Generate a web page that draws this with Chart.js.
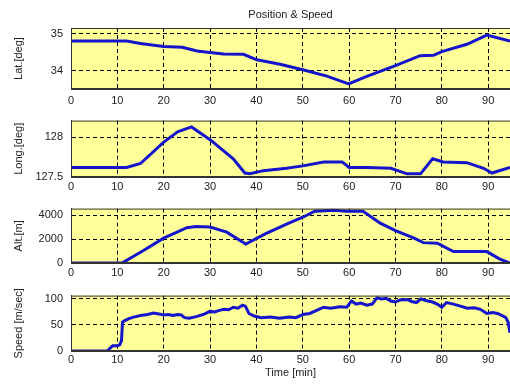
<!DOCTYPE html>
<html>
<head>
<meta charset="utf-8">
<script src="https://cdn.jsdelivr.net/npm/chart.js@4/dist/chart.umd.min.js"></script>
<style>
  html, body { margin: 0; padding: 0; background: #fff; overflow: hidden; }
  #wrap { position: relative; width: 510px; height: 385px; }
  canvas { position: absolute; left: 0; }
</style>
</head>
<body>
<div id="wrap">
  <canvas id="cLat" width="510" height="110" style="top:0px"></canvas>
  <canvas id="cLong" width="510" height="92" style="top:106px"></canvas>
  <canvas id="cAlt" width="510" height="90" style="top:194px"></canvas>
  <canvas id="cSpeed" width="510" height="104" style="top:281px"></canvas>
</div>
<script>
// ==================== DATOS ====================
const timeTicks = [0, 10, 20, 30, 40, 50, 60, 70, 80, 90];

const latTime = [0, 12, 15, 20, 24, 27.2, 30, 32.9, 37.2, 40.1, 45.1, 50, 55.2, 59.9, 63.8, 70, 75.3, 78.2, 80, 85.4, 89.7, 94.7];
const latDeg  = [34.81, 34.81, 34.74, 34.66, 34.64, 34.54, 34.50, 34.46, 34.45, 34.30, 34.18, 34.03, 33.86, 33.65, 33.85, 34.14, 34.41, 34.42, 34.52, 34.72, 34.97, 34.81];
const latTicks = [34, 35];

const longTime = [0, 12, 15, 20, 23, 26, 30, 35, 37.5, 38.6, 41.5, 46.5, 50, 54.5, 58.5, 60, 64, 69, 72.5, 75.4, 78, 80.3, 85.4, 89, 90.8, 94.7];
const longDeg  = [127.62, 127.62, 127.67, 127.94, 128.07, 128.13, 127.97, 127.73, 127.55, 127.54, 127.58, 127.61, 127.64, 127.69, 127.69, 127.62, 127.62, 127.61, 127.54, 127.54, 127.73, 127.69, 127.68, 127.61, 127.55, 127.62];
const longTicks = [127.5, 128];

const altTime = [0, 11, 15, 20, 25, 27, 30, 33.6, 37.7, 42, 46.5, 50, 52.6, 56.6, 59.5, 63, 66.7, 70, 74, 76, 79, 82.5, 89.7, 92.5, 94.7];
const altM    = [0, 0, 900, 2075, 2950, 3050, 3000, 2575, 1575, 2450, 3250, 3820, 4320, 4400, 4320, 4320, 3325, 2700, 2075, 1700, 1650, 950, 950, 325, 0];
const altTicks = [0, 2000, 4000];

const speedTime = [0, 7.8, 8.5, 9, 10, 10.5, 10.9, 11.1, 11.5, 12.5, 13.5, 15, 16.5, 17.8, 19, 20, 21, 22, 23, 23.8, 24.5, 25.5, 27, 28.5, 30, 31, 32, 33, 34, 35, 36, 37, 37.6, 38.4, 39.5, 41, 43, 45, 47, 48.5, 50, 51.5, 53, 54.5, 56, 58, 59.5, 60.5, 61.5, 62.5, 63.8, 65, 66, 67, 68, 69, 70, 71, 72.5, 73.5, 74.5, 75.5, 76.5, 78, 79, 80, 81, 82.5, 84, 85.5, 87, 88.3, 89.7, 91, 92, 93, 93.8, 94.3, 94.7];
const speedMs   = [0, 0, 6, 10, 10, 12, 20, 55, 58, 62, 65, 68, 70, 73, 71, 69, 70, 68, 70, 69, 64, 63, 66, 70, 76, 75, 78, 80, 79, 84, 82, 88, 86, 72, 67, 64, 65, 63, 65, 64, 70, 72, 78, 84, 82, 85, 84, 96, 90, 92, 88, 90, 102, 100, 101, 96, 94, 98, 99, 95, 93, 100, 97, 94, 90, 84, 93, 90, 86, 82, 83, 80, 72, 74, 72, 68, 64, 55, 35];
const speedTicks = [0, 50, 100];

// ==================== ESTILO ====================
const FONT = 'Arial, "Liberation Sans", sans-serif';
const TXT = '#222';
const LINE = '#1414cc';

// fondo amarillo + marco del eje
const framePlugin = {
  id: 'frame',
  beforeDraw(chart) {
    const a = chart.chartArea, ctx = chart.ctx;
    ctx.save();
    ctx.fillStyle = '#ffff99';
    ctx.fillRect(a.left, a.top, a.right - a.left, a.bottom - a.top);
    ctx.restore();
  },
  afterDraw(chart) {
    const a = chart.chartArea, ctx = chart.ctx;
    ctx.save();
    ctx.strokeStyle = '#333';
    ctx.lineWidth = 1;
    ctx.beginPath();
    ctx.moveTo(a.right + 1, a.top + 0.5);
    ctx.lineTo(a.left + 0.5, a.top + 0.5);
    ctx.lineTo(a.left + 0.5, a.bottom - 0.5);
    ctx.lineTo(a.right + 1, a.bottom - 0.5);
    ctx.stroke();
    ctx.restore();
  }
};

// ==================== PANEL ====================
function makePanel(id, time, vals, yMin, yMax, yTicks, yLabel, cfg) {
  return new Chart(document.getElementById(id), {
    type: 'line',
    data: {
      datasets: [{
        data: time.map((t, i) => ({ x: t, y: vals[i] })),
        borderColor: LINE,
        borderWidth: 3,
        pointRadius: 0,
        tension: 0,
        fill: false
      }]
    },
    options: {
      responsive: false,
      animation: false,
      devicePixelRatio: 1,
      layout: { padding: { top: cfg.padTop, left: 0, right: 0, bottom: 0 } },
      plugins: {
        legend: { display: false },
        tooltip: { enabled: false },
        title: {
          display: !!cfg.title,
          text: cfg.title || '',
          fullSize: false,
          color: TXT,
          font: { family: FONT, size: 11, weight: 'normal', lineHeight: 14 / 11 },
          padding: { top: 8, bottom: 6 }
        }
      },
      scales: {
        x: {
          type: 'linear',
          min: 0,
          max: 94.7,
          afterBuildTicks: s => { s.ticks = timeTicks.map(v => ({ value: v })); },
          afterFit: s => { s.height = cfg.xH; },
          grid: { color: '#000', lineWidth: 1, drawTicks: false },
          border: { display: true, color: '#333', dash: [4, 3] },
          ticks: { color: TXT, padding: cfg.xPad, font: { family: FONT, size: 11 }, callback: v => String(v) },
          title: {
            display: !!cfg.xTitle,
            text: cfg.xTitle || '',
            color: TXT,
            font: { family: FONT, size: 11 },
            padding: { top: 0, bottom: 5 }
          }
        },
        y: {
          type: 'linear',
          min: yMin,
          max: yMax,
          afterBuildTicks: s => { s.ticks = yTicks.map(v => ({ value: v })); },
          afterFit: s => { s.width = 71; },
          grid: { color: '#000', lineWidth: 1, drawTicks: false },
          border: { display: true, color: '#333', dash: [4, 3] },
          ticks: { color: TXT, padding: 8, font: { family: FONT, size: 11 }, callback: v => String(v) },
          title: {
            display: true,
            text: yLabel,
            color: TXT,
            font: { family: FONT, size: 11 },
            padding: { top: 12, bottom: 0 }
          }
        }
      }
    },
    plugins: [framePlugin]
  });
}

// ==================== MAIN ====================
makePanel('cLat', latTime, latDeg, 33.51, 35.16, latTicks, 'Lat.[deg]',
  { padTop: 0, xH: 21, xPad: 5, title: 'Position & Speed' });
makePanel('cLong', longTime, longDeg, 127.5, 128.21, longTicks, 'Long.[deg]',
  { padTop: 8, xH: 21, xPad: 3.5 });
makePanel('cAlt', altTime, altM, 0, 4540, altTicks, 'Alt.[m]',
  { padTop: 8, xH: 21, xPad: 3 });
makePanel('cSpeed', speedTime, speedMs, 0, 106.3, speedTicks, 'Speed [m/sec]',
  { padTop: 8, xH: 34, xPad: 2.5, xTitle: 'Time [min]' });
</script>
</body>
</html>
